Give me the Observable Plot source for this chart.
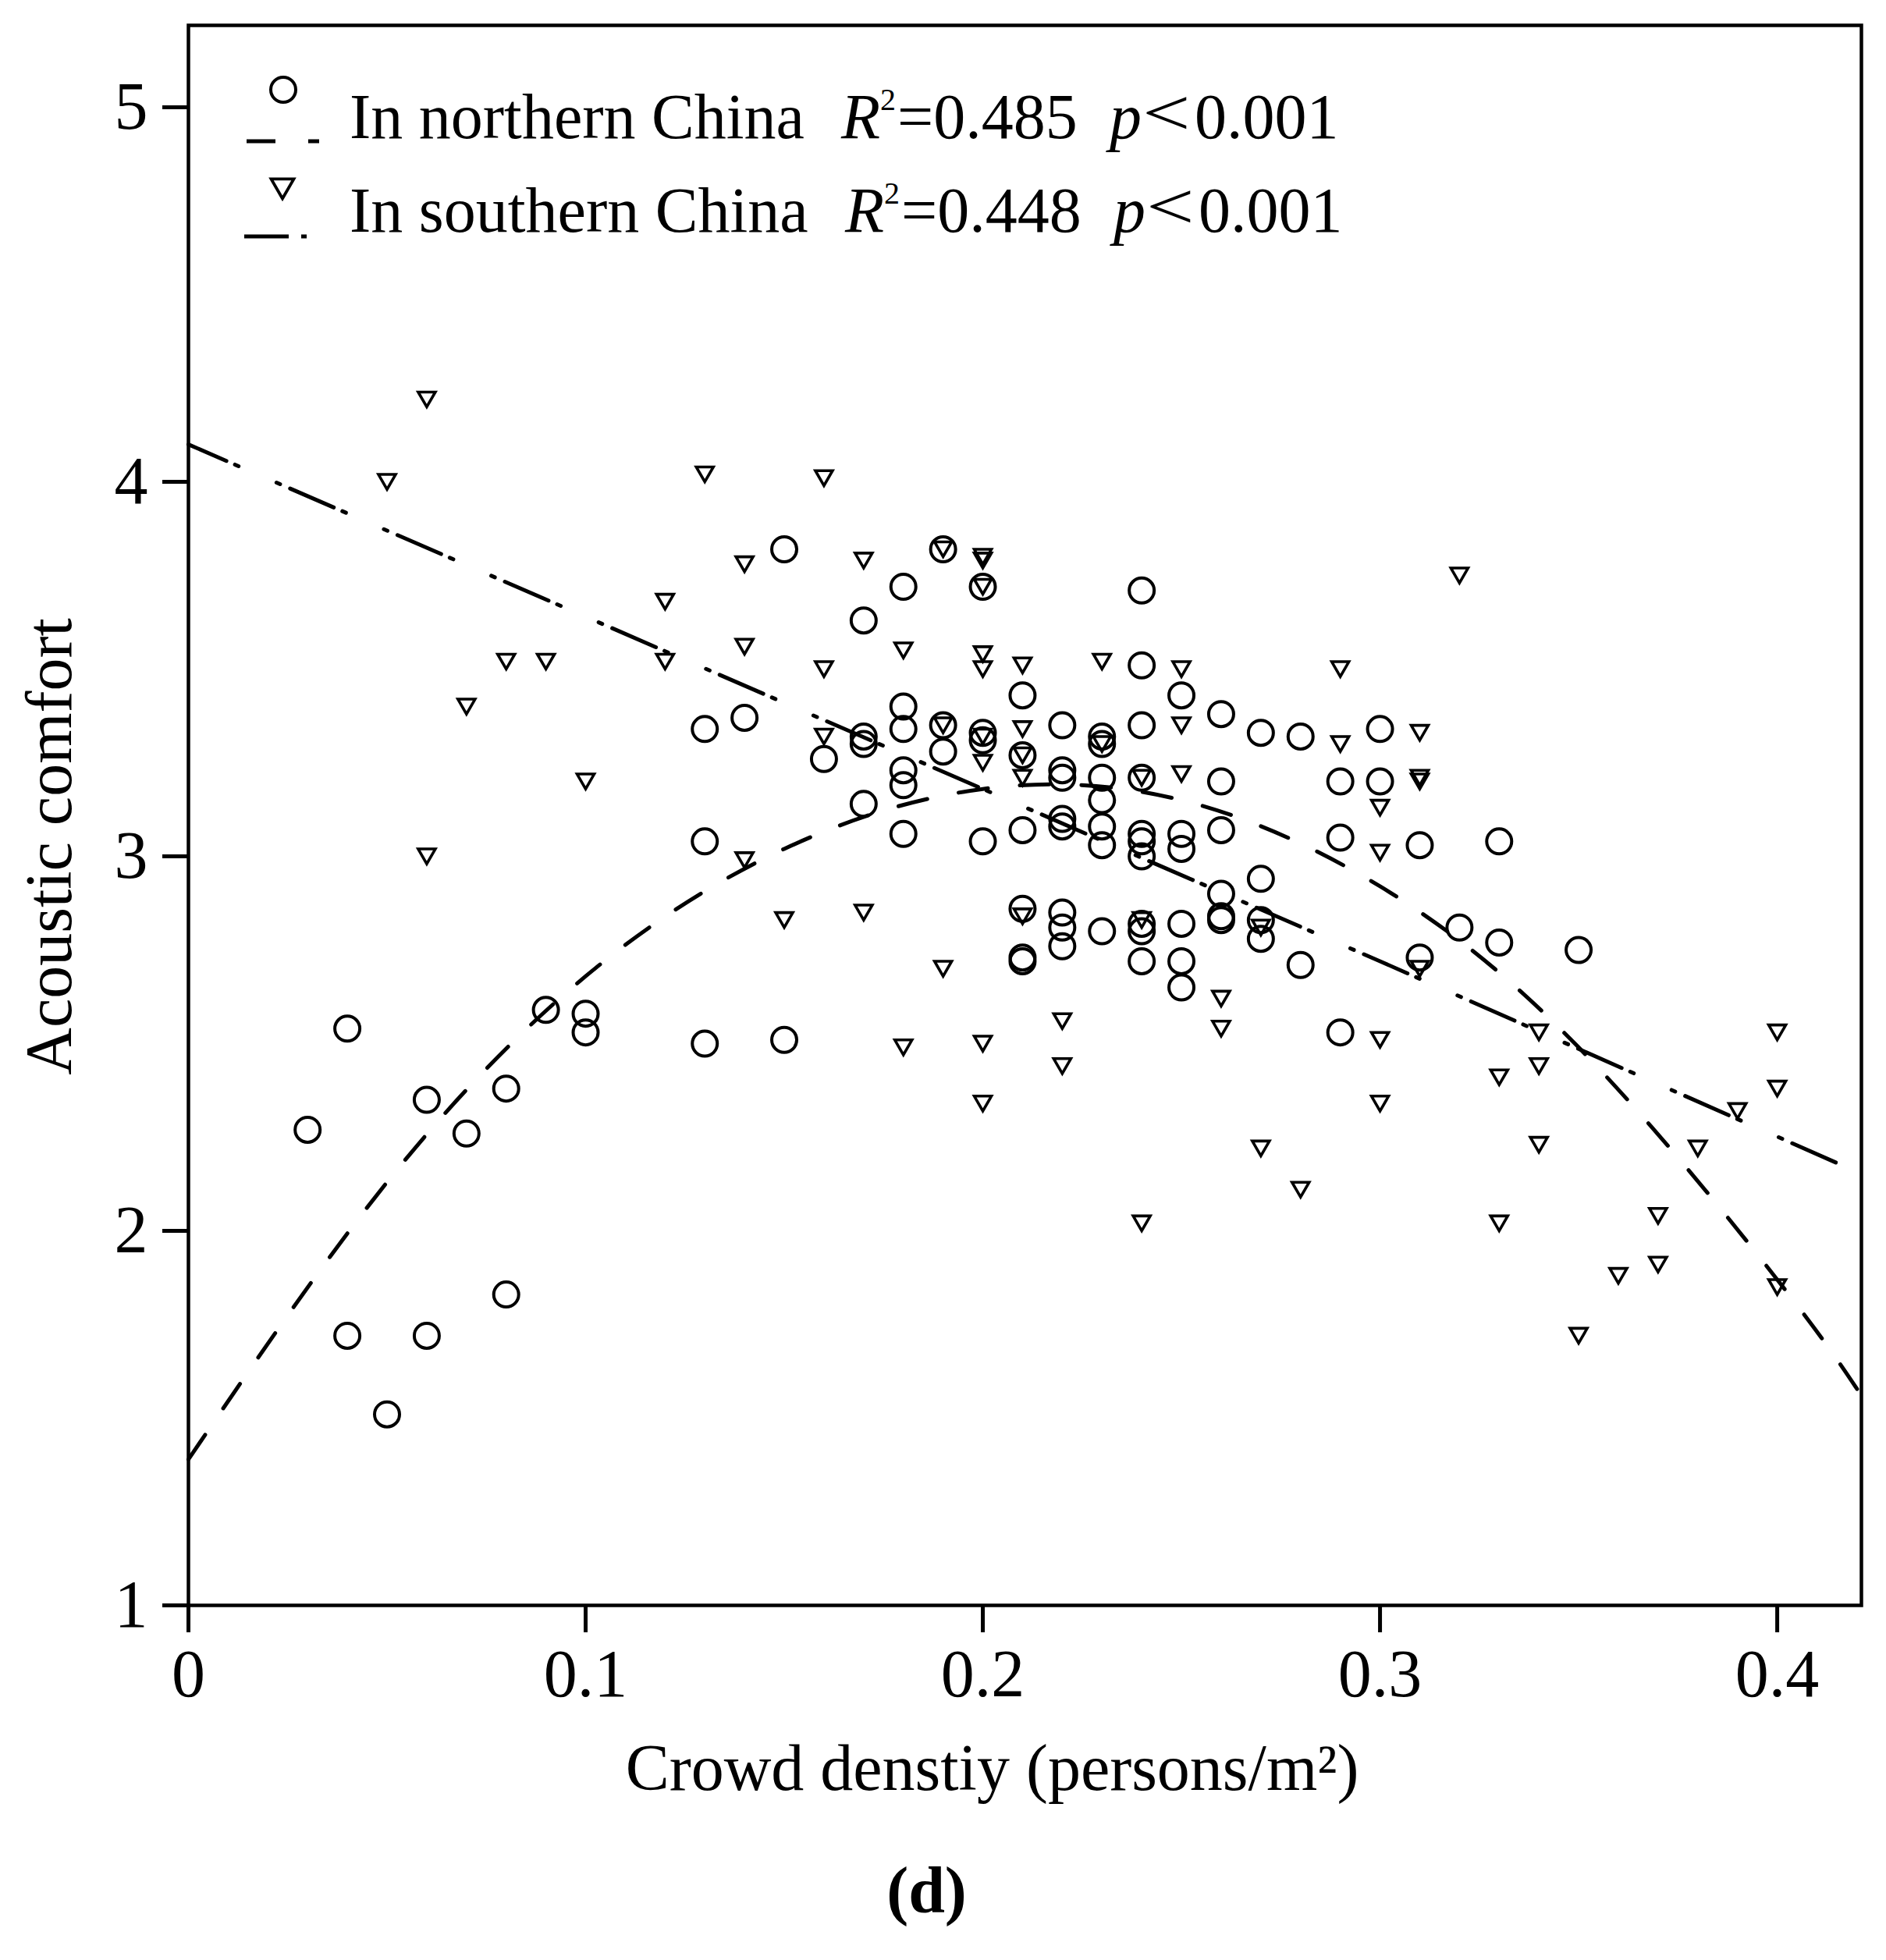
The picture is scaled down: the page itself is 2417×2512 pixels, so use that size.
<!DOCTYPE html>
<html>
<head>
<meta charset="utf-8">
<script src="https://cdn.jsdelivr.net/npm/d3@7"></script>
<script src="https://cdn.jsdelivr.net/npm/@observablehq/plot@0.6"></script>
<style>
  html, body { margin: 0; padding: 0; background: #fff; }
  #chart svg { display: block; }
</style>
</head>
<body>
<div id="chart"></div>
<script>
// ---- Data ----
const xTicks = [0, 0.1, 0.2, 0.3, 0.4];
const xTickLabels = ["0", "0.1", "0.2", "0.3", "0.4"];
const yTicks = [1, 2, 3, 4, 5];
const yTickLabels = ["1", "2", "3", "4", "5"];

// In northern China (circles)
const northX = [
  0.03, 0.04, 0.04, 0.05, 0.06, 0.06, 0.07, 0.08, 0.08, 0.09, 0.10, 0.10,
  0.13, 0.13, 0.13, 0.14, 0.15, 0.15, 0.16,
  0.17, 0.17, 0.17, 0.17,
  0.18, 0.18, 0.18, 0.18, 0.18, 0.18,
  0.19, 0.19, 0.19,
  0.20, 0.20, 0.20, 0.20,
  0.21, 0.21, 0.21, 0.21, 0.21, 0.21,
  0.22, 0.22, 0.22, 0.22, 0.22, 0.22, 0.22, 0.22,
  0.23, 0.23, 0.23, 0.23, 0.23, 0.23, 0.23,
  0.24, 0.24, 0.24, 0.24, 0.24, 0.24, 0.24, 0.24, 0.24, 0.24,
  0.25, 0.25, 0.25, 0.25, 0.25, 0.25,
  0.26, 0.26, 0.26, 0.26, 0.26, 0.26,
  0.27, 0.27, 0.27, 0.27,
  0.28, 0.28,
  0.29, 0.29, 0.29,
  0.30, 0.30,
  0.31, 0.31,
  0.32,
  0.33, 0.33,
  0.35
];
const northY = [
  2.27, 2.54, 1.72, 1.51, 2.35, 1.72, 2.26, 2.38, 1.83, 2.59, 2.58, 2.53,
  3.34, 3.04, 2.50, 3.37, 3.82, 2.51, 3.26,
  3.63, 3.32, 3.30, 3.14,
  3.72, 3.40, 3.34, 3.23, 3.19, 3.06,
  3.82, 3.35, 3.28,
  3.72, 3.33, 3.31, 3.04,
  3.43, 3.27, 3.07, 2.86, 2.73, 2.72,
  3.35, 3.23, 3.21, 3.10, 3.08, 2.85, 2.81, 2.76,
  3.32, 3.30, 3.21, 3.15, 3.08, 3.03, 2.80,
  3.71, 3.51, 3.35, 3.21, 3.06, 3.04, 3.00, 2.82, 2.80, 2.72,
  3.43, 3.06, 3.02, 2.82, 2.72, 2.65,
  3.38, 3.20, 3.07, 2.90, 2.84, 2.83,
  3.33, 2.94, 2.83, 2.78,
  3.32, 2.71,
  3.20, 3.05, 2.53,
  3.34, 3.20,
  3.03, 2.73,
  2.81,
  3.04, 2.77,
  2.75
];

// In southern China (triangles)
const southX = [
  0.05, 0.06, 0.06, 0.07, 0.08, 0.09, 0.10, 0.12, 0.12, 0.13,
  0.14, 0.14, 0.14, 0.15, 0.16, 0.16, 0.16, 0.17, 0.17, 0.18, 0.18,
  0.19, 0.19, 0.19,
  0.20, 0.20, 0.20, 0.20, 0.20, 0.20, 0.20, 0.20, 0.20,
  0.21, 0.21, 0.21, 0.21, 0.21,
  0.22, 0.22,
  0.23, 0.23,
  0.24, 0.24, 0.24,
  0.25, 0.25, 0.25,
  0.26, 0.26,
  0.27, 0.27,
  0.28,
  0.29, 0.29,
  0.30, 0.30, 0.30, 0.30,
  0.31, 0.31, 0.31, 0.31,
  0.32,
  0.33, 0.33,
  0.34, 0.34, 0.34,
  0.35, 0.36, 0.37, 0.37, 0.38, 0.39,
  0.40, 0.40, 0.40
];
const southY = [
  4.00, 4.22, 3.00, 3.40, 3.52, 3.52, 3.20, 3.68, 3.52, 4.02,
  3.78, 3.56, 2.99, 2.83, 4.01, 3.50, 3.32, 3.79, 2.85, 3.55, 2.49,
  3.82, 3.35, 2.70,
  3.80, 3.79, 3.72, 3.54, 3.50, 3.32, 3.25, 2.50, 2.34,
  3.51, 3.34, 3.27, 3.21, 2.84,
  2.56, 2.44,
  3.52, 3.30,
  3.21, 2.83, 2.02,
  3.50, 3.35, 3.22,
  2.62, 2.54,
  2.81, 2.22,
  2.11,
  3.50, 3.30,
  3.13, 3.01, 2.51, 2.34,
  3.33, 3.21, 3.20, 2.70,
  3.75,
  2.41, 2.02,
  2.53, 2.44, 2.23,
  1.72, 1.88, 2.04, 1.91, 2.22, 2.32,
  2.53, 2.38, 1.85
];

// Fitted curves
const northFitX = [0, 0.05, 0.10, 0.15, 0.20, 0.25, 0.30, 0.35, 0.40, 0.4212];
const northFitY = [1.39, 2.13, 2.68, 3.02, 3.18, 3.15, 2.92, 2.49, 1.87, 1.56];
const southFitX = [0, 0.10, 0.20, 0.30, 0.4153];
const southFitY = [4.10, 3.64, 3.18, 2.72, 2.18];

// ---- Tables ----
const north = northX.map((x, i) => ({x, y: northY[i]}));
const south = southX.map((x, i) => ({x, y: southY[i]}));
const northFit = northFitX.map((x, i) => ({x, y: northFitY[i]}));
const southFit = southFitX.map((x, i) => ({x, y: southFitY[i]}));

// downward triangle symbol (r = half side)
const triDown = {
  draw(ctx, size) {
    const r = Math.sqrt(size / Math.PI);
    const h = r * Math.sqrt(3);
    ctx.moveTo(-r, -h / 2);
    ctx.lineTo(r, -h / 2);
    ctx.lineTo(0, h / 2);
    ctx.closePath();
  }
};

const FONT = "'Liberation Serif', 'Times New Roman', Times, serif";

const chart = Plot.plot({
  width: 2417,
  height: 2512,
  marginLeft: 241,
  marginRight: 32,
  marginTop: 32,
  marginBottom: 455,
  style: {fontFamily: FONT, color: "black", background: "white", overflow: "visible"},
  x: {domain: [0, 0.4212]},
  y: {domain: [1, 5.219]},
  marks: [
    Plot.frame({stroke: "black", strokeWidth: 4.5}),
    Plot.axisX({ticks: xTicks, tickFormat: (d, i) => xTickLabels[i], tickSize: 35, tickPadding: 20,
                strokeWidth: 5, fontSize: 86, label: null}),
    Plot.axisY({ticks: yTicks, tickFormat: (d, i) => yTickLabels[i], tickSize: 33, tickPadding: 19,
                strokeWidth: 5, fontSize: 86, label: null}),
    Plot.line(northFit, {x: "x", y: "y", curve: "natural", stroke: "black", strokeWidth: 5,
                         strokeDasharray: "38 41"}),
    Plot.line(southFit, {x: "x", y: "y", stroke: "black", strokeWidth: 5,
                         strokeDasharray: "61 12 5 53 5 14", strokeDashoffset: 8}),
    Plot.dot(north, {x: "x", y: "y", r: 16, symbol: "circle", stroke: "black", strokeWidth: 4, fill: "none"}),
    Plot.dot(south, {x: "x", y: "y", r: 11, symbol: triDown, stroke: "black", strokeWidth: 3.6,
                     fill: "none", strokeLinejoin: "miter"}),
    Plot.text(["Crowd denstiy (persons/m²)"], {frameAnchor: "bottom", dx: -42, dy: 236,
              lineAnchor: "bottom", textAnchor: "middle", fontSize: 84}),
    Plot.text(["Acoustic comfort"], {frameAnchor: "left", dx: -177, dy: 40, rotate: -90,
              lineAnchor: "middle", textAnchor: "middle", fontSize: 84}),
    Plot.text(["(d)"], {frameAnchor: "bottom", dx: -126, dy: 393, lineAnchor: "bottom",
              textAnchor: "middle", fontSize: 84, fontWeight: "bold"})
  ]
});
document.getElementById("chart").append(chart);

// ---- Legend (inside the plot, top-left) ----
const svg = d3.select(chart);
const lg = svg.append("g")
  .attr("font-family", FONT)
  .attr("font-size", 82)
  .attr("text-anchor", "start")
  .attr("fill", "black");

const legendRows = [
  {label: "In northern China", r2: "0.485", base: 177, xR: 1078, xP: 1422, sym: "circle",
   symY: 115, lineY: 181, lineX1: 316, lineX2: 409, dash: "37 42"},
  {label: "In southern China", r2: "0.448", base: 297, xR: 1083, xP: 1427, sym: "tri",
   symY: 242, lineY: 303, lineX1: 313, lineX2: 393, dash: "57 16 7 100"}
];

legendRows.forEach(row => {
  if (row.sym === "circle") {
    lg.append("circle").attr("cx", 363).attr("cy", row.symY).attr("r", 16)
      .attr("fill", "none").attr("stroke", "black").attr("stroke-width", 4);
  } else {
    lg.append("path").attr("d", d3.symbol(triDown, Math.PI * 14.5 * 14.5)())
      .attr("transform", `translate(362,${row.symY})`)
      .attr("fill", "none").attr("stroke", "black").attr("stroke-width", 3.8)
      .attr("stroke-linejoin", "miter");
  }
  lg.append("line").attr("x1", row.lineX1).attr("x2", row.lineX2)
    .attr("y1", row.lineY).attr("y2", row.lineY)
    .attr("stroke", "black").attr("stroke-width", 5).attr("stroke-dasharray", row.dash);

  lg.append("text").attr("x", 448).attr("y", row.base).text(row.label);

  const t = lg.append("text").attr("x", row.xR).attr("y", row.base);
  t.append("tspan").attr("font-style", "italic").text("R");
  t.append("tspan").attr("font-size", 40).attr("dy", -36).attr("dx", 0).text("2");
  t.append("tspan").attr("dy", 36).attr("dx", 2).text("=" + row.r2);

  lg.append("text").attr("x", row.xP).attr("y", row.base)
    .attr("font-style", "italic").text("p");
  lg.append("text")
    .attr("transform", `translate(${row.xP + 42},${row.base - 4}) scale(1.3,1)`)
    .attr("font-size", 84).text("<");
  lg.append("text").attr("x", row.xP + 109).attr("y", row.base).text("0.001");
});
</script>
</body>
</html>
